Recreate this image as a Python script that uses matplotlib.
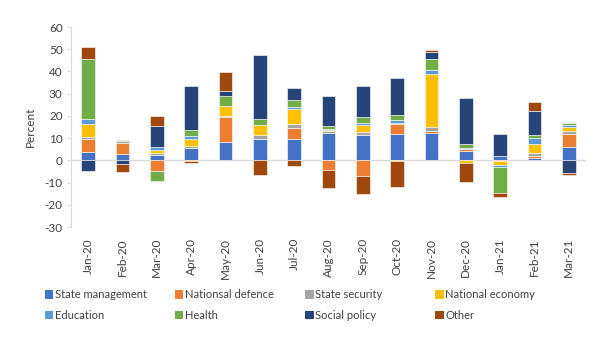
import matplotlib
matplotlib.use("Agg")
import matplotlib.pyplot as plt
import numpy as np
from matplotlib.patches import Patch

plt.rcParams['font.family'] = ['Lato', 'DejaVu Sans']

months = ["Jan-20", "Feb-20", "Mar-20", "Apr-20", "May-20", "Jun-20", "Jul-20",
          "Aug-20", "Sep-20", "Oct-20", "Nov-20", "Dec-20", "Jan-21", "Feb-21", "Mar-21"]

state_management = [3.6, 2.9, 2.4, 5.6, 8.3, 9.5, 9.7, 12.4, 11.4, 12.0, 12.4, 4.1, 1.8, 1.1, 6.1]
national_defence = [5.9, 4.8, -5.0, -0.3, 11.1, 0.0, 4.8, -4.3, -7.2, 4.5, 0.6, 0.8, -0.5, 0.8, 5.8]
state_security = [0.9, 0.9, 1.1, 0.8, 0.5, 2.0, 1.8, 0.9, 1.4, 0.4, 1.8, 0.3, 0.0, 1.2, 1.5]
national_economy = [5.8, 0.0, 1.2, 3.3, 4.4, 4.5, 6.8, 0.5, 3.0, -0.5, 24.2, -1.1, -1.6, 4.1, 1.8]
education = [2.3, 0.0, 1.2, 1.4, 0.0, 0.0, 1.0, 0.3, 0.8, 1.2, 1.5, 0.5, -1.0, 2.9, 0.8]
health = [27.0, 0.5, -4.5, 2.6, 4.8, 2.4, 3.0, 1.4, 2.9, 2.4, 5.3, 1.8, -11.5, 1.4, 0.8]
social_policy = [-4.8, -1.6, 9.7, 19.7, 2.0, 29.2, 5.3, 13.5, 13.9, 16.5, 2.9, 20.5, 10.0, 10.6, -5.9]
other = [5.3, -3.8, 4.2, -0.8, 8.8, -6.5, -2.7, -8.3, -8.0, -11.6, 0.8, -8.8, -1.8, 4.2, -0.9]

series = [
    ("State management", state_management, "#4472C4"),
    ("Nationsal defence", national_defence, "#ED7D31"),
    ("State security", state_security, "#A5A5A5"),
    ("National economy", national_economy, "#FFC000"),
    ("Education", education, "#5B9BD5"),
    ("Health", health, "#70AD47"),
    ("Social policy", social_policy, "#264478"),
    ("Other", other, "#9E480E"),
]

yticks = [-30, -20, -10, 0, 10, 20, 30, 40, 50, 60]

fig = plt.figure(figsize=(6.08, 3.38), dpi=100)
ax = fig.add_axes([0.1168, 0.3284, 0.9638 - 0.1168, 0.9201 - 0.3284])

x = np.arange(len(months))
pos_bottom = np.zeros(len(months))
neg_bottom = np.zeros(len(months))
for name, vals, color in series:
    v = np.array(vals, dtype=float)
    bottoms = np.where(v >= 0, pos_bottom, neg_bottom)
    ax.bar(x, v, width=0.39, bottom=bottoms, color=color, edgecolor='white',
           linewidth=0.4, zorder=3)
    pos_bottom += np.where(v >= 0, v, 0)
    neg_bottom += np.where(v < 0, v, 0)

ax.set_xlim(-0.5, len(months) - 0.5)
ax.set_ylim(-30, 60)
ax.set_yticks(yticks)
ax.set_yticklabels([str(t) for t in yticks], fontsize=8.5, color='#404040')
ax.axhline(0, color='#D9D9D9', linewidth=1.0, zorder=2)

for s in ['top', 'right', 'bottom']:
    ax.spines[s].set_visible(False)
ax.spines['left'].set_color('#D9D9D9')
ax.tick_params(axis='y', length=3, color='#D9D9D9', pad=3)
ax.set_xticks(x)
ax.set_xticklabels(months, rotation=90, fontsize=8.5, color='#404040')
ax.tick_params(axis='x', length=0, pad=8)
ax.set_ylabel("Percent", fontsize=8.5, color='#404040', labelpad=6)

col_x = [0.074, 0.288, 0.502, 0.716]
for c in range(4):
    handles = []
    for r in range(2):
        name, vals, color = series[r * 4 + c]
        handles.append(Patch(facecolor=color, edgecolor='none', label=name))
    fig.legend(handles=handles, loc='upper left', bbox_to_anchor=(col_x[c], 0.144),
               frameon=False, fontsize=8.0, handlelength=0.75, handleheight=0.75,
               handletextpad=0.15, labelspacing=0.85, borderaxespad=0, borderpad=0,
               labelcolor='#404040')

fig.savefig("out.png", dpi=100)
